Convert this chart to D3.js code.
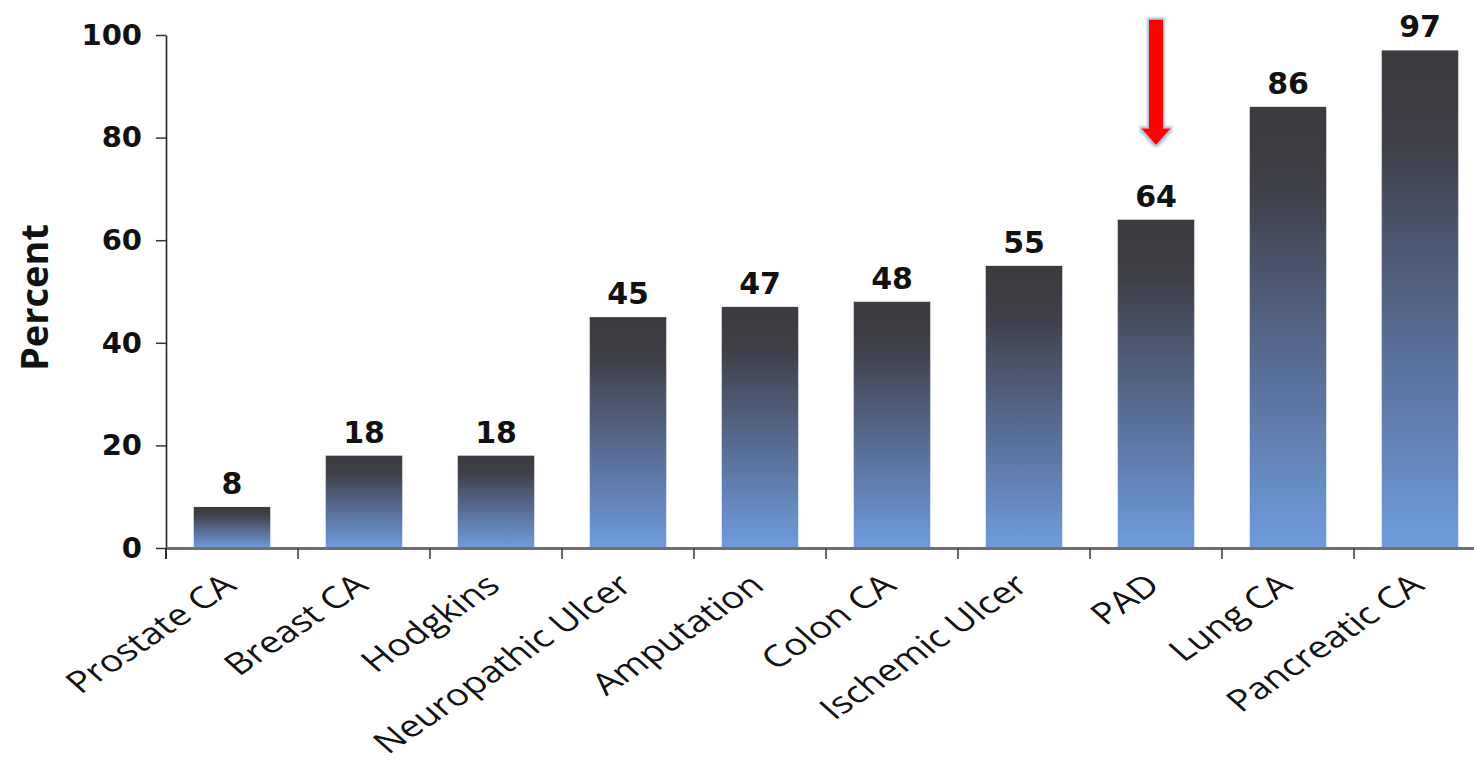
<!DOCTYPE html>
<html><head><meta charset="utf-8">
<script src="https://cdn.jsdelivr.net/npm/d3@7"></script>
<style>
html,body{margin:0;padding:0;background:#fff;}
svg{display:block;}
</style></head>
<body>
<svg id="c" width="1474" height="762"></svg>
<script>
const categories = ["Prostate CA","Breast CA","Hodgkins","Neuropathic Ulcer","Amputation","Colon CA","Ischemic Ulcer","PAD","Lung CA","Pancreatic CA"];
const values = [8,18,18,45,47,48,55,64,86,97];
const yTicks = [0,20,40,60,80,100];
const yLabel = "Percent";
const highlight = "PAD";
const arrowFrom = 103, arrowTo = 78.5;

const svg = d3.select("#c");
const x = d3.scaleBand().domain(categories).range([166,1486]).paddingInner(0.42).paddingOuter(0.21);
const y = d3.scaleLinear().domain([0,100]).range([548,35]);

const defs = svg.append("defs");
const grad = defs.append("linearGradient").attr("id","bg").attr("x1",0).attr("y1",0).attr("x2",0).attr("y2",1);
grad.append("stop").attr("offset","0%").attr("stop-color","#3c3a3e");
grad.append("stop").attr("offset","18%").attr("stop-color","#3f4048");
grad.append("stop").attr("offset","55%").attr("stop-color","#56698f");
grad.append("stop").attr("offset","100%").attr("stop-color","#6e9cdc");

const f = defs.append("filter").attr("id","glow").attr("x","-50%").attr("y","-20%").attr("width","200%").attr("height","140%");
f.append("feMorphology").attr("in","SourceAlpha").attr("operator","dilate").attr("radius",1.5).attr("result","d");
f.append("feFlood").attr("flood-color","#a9c4d6");
f.append("feComposite").attr("in2","d").attr("operator","in").attr("result","o");
f.append("feGaussianBlur").attr("in","o").attr("stdDeviation",0.8).attr("result","ob");
const fm = f.append("feMerge");
fm.append("feMergeNode").attr("in","ob");
fm.append("feMergeNode").attr("in","SourceGraphic");

// bars
svg.append("g").selectAll("rect").data(values).join("rect")
  .attr("x",(d,i)=>x(categories[i]))
  .attr("y",d=>y(d))
  .attr("width",x.bandwidth())
  .attr("height",d=>y(0)-y(d))
  .attr("fill","url(#bg)");

// value labels
svg.append("g").selectAll("text").data(values).join("text")
  .attr("x",(d,i)=>x(categories[i])+x.bandwidth()/2)
  .attr("y",d=>y(d)-13)
  .attr("text-anchor","middle")
  .attr("font-family","DejaVu Sans")
  .attr("font-weight","bold")
  .attr("font-size",30)
  .attr("fill","#111")
  .text(d=>d);

// y axis
const yAxis = svg.append("g").attr("transform","translate(166,0)")
  .call(d3.axisLeft(y).tickValues(yTicks).tickSize(10).tickPadding(14).tickSizeOuter(0));
yAxis.select(".domain").attr("stroke","#222").attr("stroke-width",1.6);
yAxis.selectAll(".tick line").attr("stroke","#333").attr("stroke-width",1.5);
yAxis.selectAll("text").attr("font-family","DejaVu Sans").attr("font-weight","bold").attr("font-size",29).attr("fill","#111");

// x axis
const xAxis = svg.append("g").attr("transform","translate(0,548)")
  .call(d3.axisBottom(x).tickSize(0).tickFormat(""));
xAxis.select(".domain").attr("stroke","#6f6f6f").attr("stroke-width",3);
const bounds = categories.map(c=>x(c)-x.step()*x.paddingInner()/2).map((v,i)=> i===0? x.range()[0] : v);
xAxis.append("g").selectAll("line").data(bounds).join("line")
  .attr("x1",d=>d).attr("x2",d=>d).attr("y1",0).attr("y2",11)
  .attr("stroke","#333").attr("stroke-width",1.5);
svg.append("line").attr("x1",166).attr("x2",166).attr("y1",y(0)).attr("y2",y(0)+11).attr("stroke","#222").attr("stroke-width",1.6);

// category labels (rotated, then stretched horizontally like the source image)
svg.append("g").selectAll("text").data(categories).join("text")
  .attr("transform",c=>`translate(${x(c)+x.bandwidth()/2+6},${588}) scale(1.28,1) rotate(-41)`)
  .attr("text-anchor","end")
  .attr("font-family","Open Sans")
  .attr("font-size",30)
  .attr("fill","#111")
  .text(c=>c);

// y label
svg.append("text")
  .attr("transform",`translate(48,${(y(40)+y(60))/2+6}) rotate(-90)`)
  .attr("text-anchor","middle")
  .attr("font-family","Open Sans")
  .attr("font-weight","bold")
  .attr("font-size",38)
  .attr("fill","#111")
  .text(yLabel);

// arrow
const ax = x(highlight)+x.bandwidth()/2;
const yt = y(arrowFrom), yb = y(arrowTo);
const sw = 7, hw = 15, hh = 17;
svg.append("path")
  .attr("d",`M${ax-sw},${yt} L${ax+sw},${yt} L${ax+sw},${yb-hh} L${ax+hw},${yb-hh} L${ax},${yb} L${ax-hw},${yb-hh} L${ax-sw},${yb-hh} Z`)
  .attr("fill","#ff0000")
  .attr("filter","url(#glow)");
</script>
</body></html>
